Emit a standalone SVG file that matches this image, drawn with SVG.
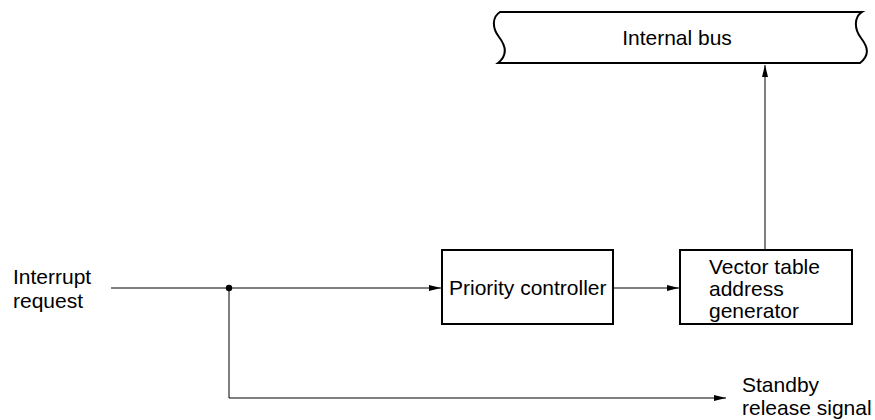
<svg xmlns="http://www.w3.org/2000/svg" width="875" height="420" viewBox="0 0 875 420">
<style>
text{font-family:"Liberation Sans",Arial,sans-serif;font-size:21px;fill:#000}
.box{fill:#fff;stroke:#000;stroke-width:2}
.ln{fill:none;stroke:#000;stroke-width:1}
</style>
<defs>
<marker id="ah" viewBox="0 0 12 6" refX="12" refY="3" markerWidth="12" markerHeight="6" markerUnits="userSpaceOnUse" orient="auto">
<path d="M0,0 L12,3 L0,6 Z" fill="#000"/>
</marker>
</defs>
<rect width="875" height="420" fill="#fff"/>
<g id="connectors">
<path class="ln" d="M111,288 H441" marker-end="url(#ah)"/>
<path class="ln" d="M229,288 V398 H726" marker-end="url(#ah)"/>
<path class="ln" d="M614,288 H679" marker-end="url(#ah)"/>
<path class="ln" d="M765,250 V65" marker-end="url(#ah)"/>
<circle cx="229" cy="288" r="3.2" fill="#000"/>
</g>
<g id="bus">
<path fill="#fff" stroke="#000" stroke-width="2" d="M500,12 H862 C854,17 854,29 861,38 C868,47 870,55 860,63 H498 C508,55 506,46 499,37 C492,28 492,17 500,12 Z"/>
<text x="677" y="45" text-anchor="middle">Internal bus</text>
</g>
<g id="priority">
<rect class="box" x="442" y="250" width="171" height="74"/>
<text x="449" y="295">Priority controller</text>
</g>
<g id="vector">
<rect class="box" x="680" y="250" width="172" height="74"/>
<text x="709" y="274">Vector table</text>
<text x="709" y="296">address</text>
<text x="709" y="318">generator</text>
</g>
<g id="labels">
<text x="13" y="284">Interrupt</text>
<text x="13" y="308">request</text>
<text x="742" y="392">Standby</text>
<text x="742" y="415">release signal</text>
</g>
</svg>
